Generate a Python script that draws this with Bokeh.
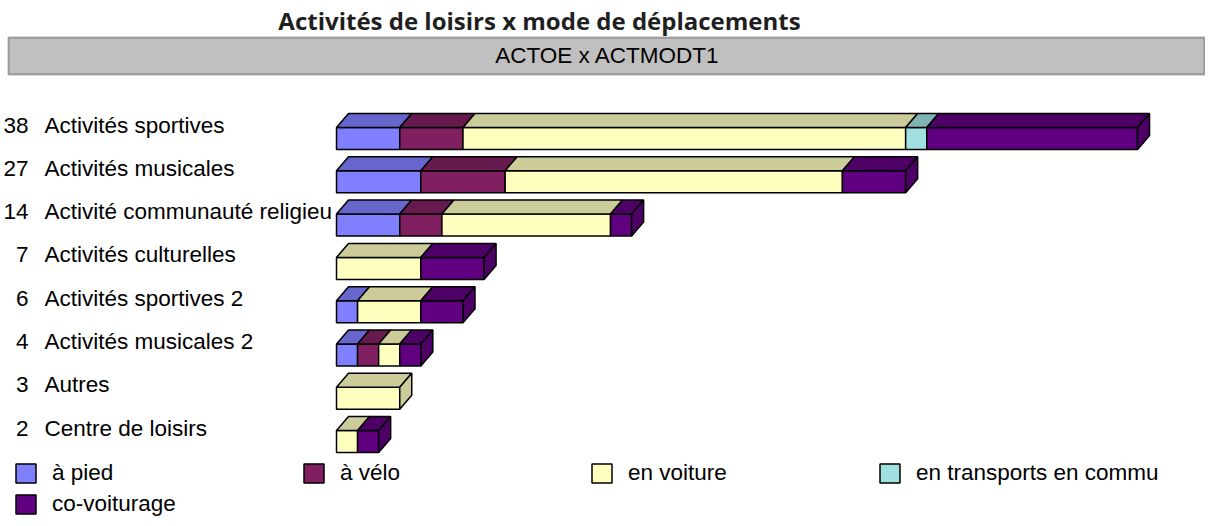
from bokeh.plotting import figure
from bokeh.models import (Range1d, ColumnDataSource, LabelSet, Label, BoxAnnotation,
                          Legend, LegendItem)
from bokeh.core.properties import value
from bokeh.embed import file_html
from bokeh.resources import INLINE

# ---------------- data ----------------
categories = ["Activités sportives", "Activités musicales", "Activité communauté religieu",
              "Activités culturelles", "Activités sportives 2", "Activités musicales 2",
              "Autres", "Centre de loisirs"]
totals = [38, 27, 14, 7, 6, 4, 3, 2]
modes = ["à pied", "à vélo", "en voiture", "en transports en commu", "co-voiturage"]
a_pied = [3, 4, 3, 0, 1, 1, 0, 0]
a_velo = [3, 4, 2, 0, 0, 1, 0, 0]
en_voiture = [21, 16, 8, 4, 3, 1, 3, 1]
transports = [1, 0, 0, 0, 0, 0, 0, 0]
covoiturage = [10, 3, 1, 3, 2, 1, 0, 1]
series = [a_pied, a_velo, en_voiture, transports, covoiturage]

title_text = "Activités de loisirs x mode de déplacements"
subtitle_text = "ACTOE x ACTMODT1"

# ---------------- style ----------------
front_colors = ["#8080FF", "#802060", "#FFFFC0", "#A0E0E0", "#600080"]
top_colors = ["#6666CC", "#661A4D", "#CCCC9A", "#80B3B3", "#4D0066"]
FONT = "Liberation Sans"

W, H = 1205, 518
UNIT_PX = 21.08      # pixels per count
ROW_PX = 43.3        # pixels per row
ZERO_X = 336         # pixel of value 0 inside the frame
ROW0_Y = 138         # pixel (from top) of first row's front centre
HALF = 11 / ROW_PX   # half height of front face, in row units
DX = 12 / UNIT_PX    # depth offset x
DY = 14 / ROW_PX     # depth offset y

p = figure(width=W, height=H, output_backend="svg", toolbar_location=None,
           x_range=Range1d(-ZERO_X / UNIT_PX, (W - ZERO_X) / UNIT_PX),
           y_range=Range1d((H - ROW0_Y) / ROW_PX, -ROW0_Y / ROW_PX),
           x_axis_location=None, y_axis_location=None, min_border=0,
           outline_line_color=None)
p.xgrid.visible = False
p.ygrid.visible = False

# ---------------- row labels ----------------
rows = list(range(len(categories)))
lab_src = ColumnDataSource(dict(y=[r - 6 / ROW_PX for r in rows],
                                num=[str(t) for t in totals],
                                name=categories))
p.add_layout(LabelSet(x=28, y="y", x_units="screen", text="num", source=lab_src,
                      text_align="right", text_baseline="alphabetic",
                      text_font=value(FONT), text_font_size="22.5px", text_color="black",
                      level="underlay"))
p.add_layout(LabelSet(x=44, y="y", x_units="screen", text="name", source=lab_src,
                      text_align="left", text_baseline="alphabetic",
                      text_font=value(FONT), text_font_size="22.5px", text_color="black",
                      level="underlay"))

# ---------------- 3D stacked bars ----------------
cum = [0] * len(categories)
last_mode = []
for r in rows:
    lm = None
    for m, s in enumerate(series):
        if s[r] > 0:
            lm = m
    last_mode.append(lm)

legend_items = []
for m, s in enumerate(series):
    L, R, T, B = [], [], [], []
    txs, tys, sxs, sys_ = [], [], [], []
    for r in rows:
        v = s[r]
        if v <= 0:
            continue
        left = cum[r]
        right = cum[r] + v
        cum[r] = right
        L.append(left); R.append(right); T.append(r - HALF); B.append(r + HALF)
        txs.append([left, left + DX, right + DX, right])
        tys.append([r - HALF, r - HALF - DY, r - HALF - DY, r - HALF])
        if last_mode[r] == m:
            sxs.append([right, right + DX, right + DX, right])
            sys_.append([r - HALF, r - HALF - DY, r + HALF - DY, r + HALF])
    fr = p.quad(left=L, right=R, top=T, bottom=B, fill_color=front_colors[m],
                line_color="black", line_width=1.5)
    p.patches(xs=txs, ys=tys, fill_color=top_colors[m], line_color="black", line_width=1.5)
    if sxs:
        p.patches(xs=sxs, ys=sys_, fill_color=top_colors[m], line_color="black",
                  line_width=1.5)
    legend_items.append(LegendItem(label=modes[m], renderers=[fr]))

# ---------------- title & header box ----------------
p.add_layout(BoxAnnotation(left=8, right=1204, bottom=H - 74, top=H - 37,
                           left_units="screen", right_units="screen",
                           top_units="screen", bottom_units="screen",
                           fill_color="#C0C0C0", fill_alpha=1.0,
                           line_color="black", line_width=2, level="underlay"))
p.add_layout(Label(x=539, y=H - 20, x_units="screen", y_units="screen", text=title_text,
                   text_align="center", text_baseline="alphabetic",
                   text_font="Open Sans", text_font_style="bold", text_font_size="24px",
                   text_color="#1F1F1F"))
p.add_layout(Label(x=607, y=H - 55, x_units="screen", y_units="screen", text=subtitle_text,
                   text_align="center", text_baseline="alphabetic",
                   text_font=FONT, text_font_size="22.5px", text_color="black"))

# ---------------- legend ----------------
legend = Legend(items=legend_items, orientation="horizontal", ncols=4,
                location=(13, 1), glyph_width=25, glyph_height=24,
                label_standoff=14, label_width=244, spacing=5, padding=0, margin=0,
                border_line_color=None, background_fill_alpha=0,
                label_text_font=FONT, label_text_font_size="22.5px",
                label_text_color="black")
p.add_layout(legend)

open("out.html", "w").write(file_html(p, INLINE))
